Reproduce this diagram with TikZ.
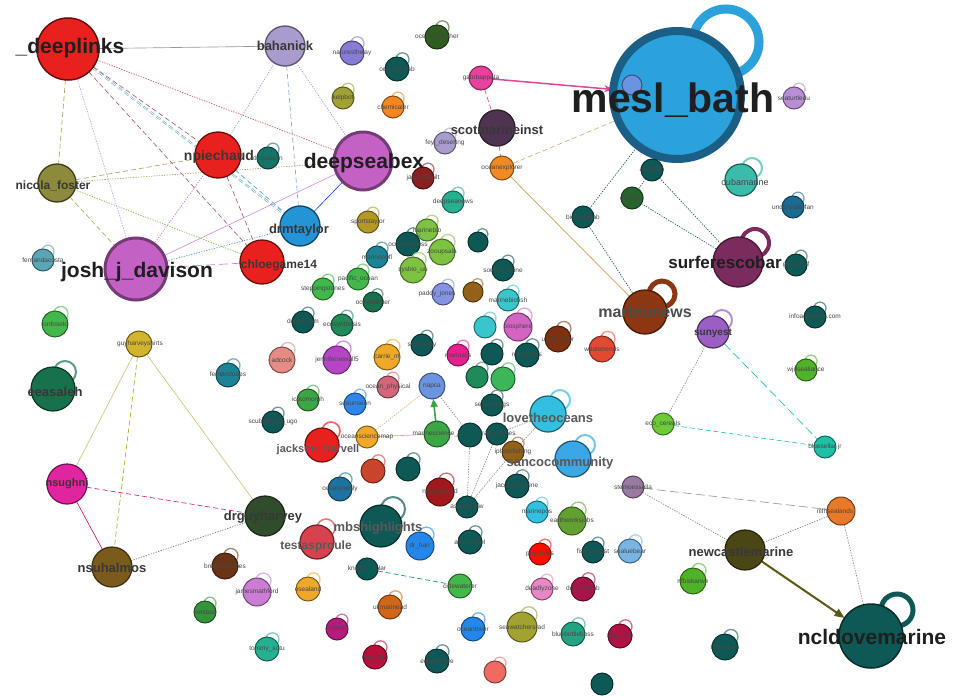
\documentclass[tikz,border=0pt]{standalone}
\usepackage{fontspec}
\setmainfont{Liberation Sans}
\usetikzlibrary{arrows.meta}
\pgfdeclarelayer{bg}\pgfdeclarelayer{fg}\pgfsetlayers{bg,main,fg}
\definecolor{cred}{HTML}{E8211F}
\definecolor{clav}{HTML}{A99BCB}
\definecolor{corch}{HTML}{C362C4}
\definecolor{colive}{HTML}{8C8A3C}
\definecolor{cblue}{HTML}{2394D6}
\definecolor{cmesl}{HTML}{2BA2DB}
\definecolor{cmeslb}{HTML}{1B5F87}
\definecolor{cplum}{HTML}{4F3452}
\definecolor{cpink}{HTML}{E6429E}
\definecolor{corange}{HTML}{F08A24}
\definecolor{cmaroon}{HTML}{7B2B5E}
\definecolor{cbrown}{HTML}{8C3612}
\definecolor{cturq}{HTML}{3BBBAA}
\definecolor{cviolet}{HTML}{9B5EC2}
\definecolor{cnlf}{HTML}{E8782A}
\definecolor{cdkolive}{HTML}{4B4616}
\definecolor{cdkteal}{HTML}{0E5955}
\definecolor{cdkgreen}{HTML}{2F4C2B}
\definecolor{cochre}{HTML}{7A5B1C}
\definecolor{cmagenta}{HTML}{E1249F}
\definecolor{cyellow}{HTML}{D4B42C}
\definecolor{cjade}{HTML}{17714A}
\definecolor{cgreen}{HTML}{42B84A}
\definecolor{clime}{HTML}{7EC242}
\definecolor{ccyan}{HTML}{33C0E0}
\definecolor{cskyblue}{HTML}{3AA8E6}
\definecolor{csalmon}{HTML}{E58C84}
\definecolor{crose}{HTML}{D2667A}
\definecolor{ctealgray}{HTML}{5AA6B4}
\definecolor{cpetrol}{HTML}{1E8296}
\definecolor{cmint}{HTML}{25B090}
\definecolor{cdkred}{HTML}{8A1F20}
\definecolor{ccrimson}{HTML}{A8134A}
\definecolor{cperiw}{HTML}{8494E2}
\definecolor{cpurple}{HTML}{B545C4}
\definecolor{cpinkl}{HTML}{E887C4}
\definecolor{cforest}{HTML}{2E5D1F}
\definecolor{cnavy}{HTML}{1B6A92}
\definecolor{cbrick}{HTML}{E04A32}
\definecolor{cnapca}{HTML}{6A94E0}
\definecolor{csea}{HTML}{1F8A5A}
\definecolor{ctest}{HTML}{D8424E}
\definecolor{cbrown2}{HTML}{6A3416}
\definecolor{cgold}{HTML}{F0A828}
\definecolor{cgrape}{HTML}{9A7AA2}
\definecolor{cltblue}{HTML}{78B4E4}
\definecolor{colive2}{HTML}{A2A232}
\definecolor{csalm2}{HTML}{F06A64}
\definecolor{cdkorange}{HTML}{D0661A}
\definecolor{cbrownochre}{HTML}{94601A}
\definecolor{ccyan2}{HTML}{38C6CC}
\definecolor{cpinkpurple}{HTML}{D464C4}
\definecolor{cleaf}{HTML}{62A032}
\definecolor{eolive}{HTML}{A8A660}
\definecolor{emaroon}{HTML}{B05A72}
\definecolor{ered}{HTML}{D0505A}
\definecolor{eviolet}{HTML}{CC94E6}
\definecolor{eteal}{HTML}{4CA0C0}
\definecolor{eblue}{HTML}{8CA8D0}
\definecolor{etan}{HTML}{D8AE72}
\definecolor{epink}{HTML}{E0449A}
\definecolor{eyellow}{HTML}{CCC47C}
\definecolor{egray}{HTML}{7A8A90}
\tikzset{
 nd/.style={circle,inner sep=0pt,outer sep=0pt,line width=1pt},
 lp/.style={line width=1.3pt},
 ed/.style={line width=0.65pt},
 dsh/.style={dash pattern=on 5pt off 3pt},
 ldsh/.style={dash pattern=on 9pt off 4pt},
 dtt/.style={dash pattern=on 1.3pt off 1.3pt},
 labbig/.style={font=\fontsize{21}{21}\selectfont\bfseries,text=black!88,inner sep=0pt},
 labmid/.style={font=\fontsize{13}{13}\selectfont\bfseries,text=black!78,inner sep=0pt},
 labsm/.style={font=\fontsize{6.5}{6.5}\selectfont,text=black!72,inner sep=0pt},
}
% small node with self loop: [label opts]{name}{x}{y}{r}{colour}{label}
\newcommand{\nl}[7][]{%
  \draw[lp,draw=#6!60!white] ({#3+0.45*#5},{#4-0.8*#5}) circle [radius={0.55*#5pt}];
  \node[nd,minimum size={2*#5pt},fill=#6,draw=#6!55!black] (#2) at (#3,#4) {};
  \begin{pgfonlayer}{fg}\node[labsm,#1] (#2-l) at (#2.center) {#7};\end{pgfonlayer}}
% node without loop
\newcommand{\nd}[7][]{%
  \node[nd,minimum size={2*#5pt},fill=#6,draw=#6!55!black] (#2) at (#3,#4) {};
  \begin{pgfonlayer}{fg}\node[labsm,#1] (#2-l) at (#2.center) {#7};\end{pgfonlayer}}
\begin{document}
\begin{tikzpicture}[x=1pt,y=-1pt]
\useasboundingbox (0,0) rectangle (958,696);
\begin{pgfonlayer}{bg}
\fill[white] (0,0) rectangle (958,696);
\end{pgfonlayer}

% ---------- big / labelled nodes ----------
\node[nd,minimum size=62pt,fill=cred,draw=cred!45!black,line width=1.5pt] (dl) at (68,49) {};
\node[nd,minimum size=40pt,fill=clav,draw=clav!55!black,line width=1.3pt] (bah) at (285,46) {};
\node[nd,minimum size=46pt,fill=cred,draw=cred!45!black,line width=1.3pt] (npi) at (218,155) {};
\node[nd,minimum size=38pt,fill=colive,draw=colive!45!black,line width=1.3pt] (nic) at (57,183) {};
\node[nd,minimum size=58pt,fill=corch,draw=corch!60!black,line width=3pt] (dsb) at (363,161) {};
\node[nd,minimum size=62pt,fill=corch,draw=corch!60!black,line width=3pt] (josh) at (136,269) {};
\node[nd,minimum size=44pt,fill=cred,draw=cred!45!black,line width=1.3pt] (chl) at (262,262) {};
\node[nd,minimum size=40pt,fill=cblue,draw=cblue!45!black,line width=1.3pt] (drm) at (300,226) {};

\draw[line width=9pt,cmesl] (726,42) circle [radius=33pt];
\node[nd,minimum size=128pt,fill=cmesl,draw=cmeslb,line width=8pt] (mesl) at (677,95) {};
\node[nd,minimum size=20pt,fill=cnapca,draw=cnapca!55!black] (mlab) at (632,85) {};

\node[nd,minimum size=36pt,fill=cplum,draw=cplum!55!black,line width=1.3pt] (scot) at (497,128) {};
\nd{gab}{481}{78}{12}{cpink}{gabrbappata}
\nd{org}{502}{168}{12}{corange}{oceanexplorer}

\draw[line width=4pt,cmaroon] (755,243) circle [radius=14pt];
\node[nd,minimum size=50pt,fill=cmaroon,draw=cmaroon!55!black,line width=1.3pt] (surf) at (738,262) {};
\draw[line width=5pt,cbrown] (662,294) circle [radius=13pt];
\node[nd,minimum size=44pt,fill=cbrown,draw=cbrown!50!black,line width=1.3pt] (marb) at (645,312) {};
\draw[line width=2pt,cturq!70!white] (752,168) circle [radius=10pt];
\node[nd,minimum size=32pt,fill=cturq,draw=cturq!50!black,line width=1.2pt] (cuba) at (741,180) {};
\draw[line width=2pt,cviolet!70!white] (722,320) circle [radius=10pt];
\node[nd,minimum size=32pt,fill=cviolet,draw=cviolet!50!black,line width=1.2pt] (suny) at (713,332) {};

\node[nd,minimum size=28pt,fill=cnlf,draw=cnlf!50!black] (nlf) at (841,511) {};
\node[nd,minimum size=40pt,fill=cdkolive,draw=cdkolive!50!black,line width=1.2pt] (newc) at (745,550) {};
\draw[line width=5pt,cdkteal] (897,610) circle [radius=16pt];
\node[nd,minimum size=64pt,fill=cdkteal,draw=cdkteal!50!black,line width=1.5pt] (ncl) at (871,636) {};

\node[nd,minimum size=40pt,fill=cdkgreen,draw=cdkgreen!50!black,line width=1.2pt] (drg) at (265,516) {};
\node[nd,minimum size=40pt,fill=cochre,draw=cochre!50!black,line width=1.2pt] (nsuh) at (112,567) {};
\node[nd,minimum size=40pt,fill=cmagenta,draw=cmagenta!50!black,line width=1.2pt] (nsug) at (67,484) {};
\node[nd,minimum size=26pt,fill=cyellow,draw=cyellow!50!black] (ghs) at (139,344) {};
\draw[line width=2pt,cjade!70!white] (65,372) circle [radius=11pt];
\node[nd,minimum size=44pt,fill=cjade,draw=cjade!50!black,line width=1.2pt] (eea) at (53,389) {};
\nl{lon}{55}{324}{13}{cgreen}{lonfoselo}

\draw[line width=2pt,ccyan!70!white] (560,400) circle [radius=10pt];
\node[nd,minimum size=36pt,fill=ccyan,draw=ccyan!50!black,line width=1.2pt] (lov) at (548,414) {};
\draw[line width=2pt,cskyblue!70!white] (585,445) circle [radius=10pt];
\node[nd,minimum size=36pt,fill=cskyblue,draw=cskyblue!50!black,line width=1.2pt] (sanc) at (573,459) {};
\draw[line width=2pt,cdkteal!70!white] (393,509) circle [radius=12pt];
\node[nd,minimum size=42pt,fill=cdkteal,draw=cdkteal!50!black,line width=1.2pt] (mbs) at (381,526) {};
\draw[line width=1.6pt,ctest!70!white] (326,528) circle [radius=9pt];
\node[nd,minimum size=34pt,fill=ctest,draw=ctest!50!black,line width=1.2pt] (test) at (317,542) {};
\draw[line width=1.6pt,cred!70!white] (331,431) circle [radius=9pt];
\node[nd,minimum size=34pt,fill=cred,draw=cred!50!black,line width=1.2pt] (jack) at (322,445) {};
\nd{napca}{432}{386}{13}{cnapca}{napca}

% ---------- small nodes ----------
\nl{a1}{437}{37}{12}{cforest}{oceanographer}
\nl{a2}{352}{53}{12}{clav!80!blue}{naturesthway}
\nl{a3}{397}{69}{12}{cdkteal}{oceanandsb}
\nl{a4}{343}{98}{11}{colive2}{kelpbot}
\nl{a5}{393}{107}{11}{cgold!80!red}{chemicaler}
\nl{a6}{445}{143}{11}{clav}{feyl\_desertng}
\nl{a7}{423}{178}{11}{cdkred}{jasonhamilt}
\nl{a8}{453}{202}{11}{cmint}{deepseanews}
\nl{a9}{368}{222}{11}{cyellow!85!black}{sportstaylor}
\nl{a10}{427}{230}{11}{clime}{marinebio}
\nl{a11}{268}{158}{11}{cdkteal!70!cmint}{drouxlawn}
\nl{a12}{794}{98}{11}{cviolet!70!white}{seaturtledu}
\nl{a13}{793}{207}{11}{cnavy}{underwaterfan}
\nd{t1}{652}{170}{11}{cdkteal}{alanjohn}
\nd{t2}{632}{198}{11}{cforest!70!cjade}{oliverkirl}
\nd{t3}{583}{217}{11}{cdkteal}{biomarinlab}
\nl{a14}{796}{265}{11}{cdkteal}{glassreef}
\nl{a15}{815}{317}{11}{cdkteal}{infoaquarium.com}
\nl{a16}{806}{370}{11}{cleaf!80!green}{wjdsealiance}
\nd{tg1}{825}{447}{11}{cmint!80!cyan}{bluesellar jr}
\nd{gr1}{663}{424}{11}{clime!85!green}{eco\_cereals}
\nl{a17}{43}{260}{11}{ctealgray}{fernandacosta}
\nl{a18}{228}{375}{12}{cpetrol}{fernandoaps}

\nl{b1}{377}{257}{11}{cpetrol}{marineoofl}
\nl{b2}{408}{244}{12}{cdkteal}{oceanwitness}
\nl{b3}{442}{252}{13}{clime}{zooupsala}
\nl{b4}{413}{270}{13}{clime}{sysbio\_uu}
\nl{b5}{358}{279}{11}{cgreen}{pacific\_ocean}
\nl{b6}{323}{289}{11}{cgreen}{steppingstones}
\nl{b7}{373}{302}{10}{cjade}{oceandrifter}
\nl{b8}{303}{322}{11}{cdkteal}{deeplocum}
\nl{b9}{342}{325}{11}{csea}{ecosynthesis}
\nl[xshift=-6pt]{b10}{443}{294}{11}{cperiw}{paddy\_jones}
\nl{b11}{473}{292}{10}{cbrownochre}{}
\nl{b12}{422}{345}{11}{cdkteal}{seatrophy}
\nl{b13}{387}{357}{13}{cgold}{carrie\_m}
\nl{b14}{337}{360}{14}{cpurple}{jennifernewall5}
\nl{b15}{282}{360}{13}{csalmon}{adcock}
\nl{b16}{458}{355}{11}{cmagenta!90!red}{marinalis}
\nl{b17}{388}{387}{11}{crose}{ocean\_physical}
\nl{b18}{355}{404}{11}{cskyblue!80!blue}{seaunseen}
\nl{b19}{308}{400}{11}{cgreen!90!black}{icatomorph}
\nl{b20}{273}{422}{11}{cdkteal}{scubadiving\_ugo}
\nd{or2}{367}{437}{11}{cgold}{oceansciencemap}
\nd{gr3}{437}{434}{13}{cgreen!90!black}{marinescience\_s}
\nd{dt3}{470}{435}{12}{cdkteal}{}
\nl{b21}{477}{377}{11}{csea}{}
\nl{b22}{478}{242}{10}{cdkteal}{}
\nl{b23}{503}{270}{11}{cdkteal}{sourcemarine}
\nl{b24}{508}{300}{11}{ccyan2}{marinebiofish}
\nl{b25}{485}{327}{11}{ccyan2}{}
\nl{b26}{518}{327}{14}{cpinkpurple}{biosphere}
\nl{b27}{492}{354}{11}{cdkteal}{}
\nl{b28}{527}{355}{12}{cdkteal}{rosgostats}
\nl{b29}{558}{339}{13}{cbrown!90!black}{underwater}
\nl{b30}{602}{349}{13}{cbrick}{wastetrends}
\nl{b31}{503}{379}{12}{cgreen!80!cmint}{}
\nl{b32}{492}{405}{11}{cdkteal}{seabirdlings}
\nd{b33}{497}{434}{11}{cdkteal}{dragonfishes}
\nl{och}{513}{452}{11}{cbrownochre}{iphotofishing}

\nl{c1}{340}{489}{12}{cnavy!80!cblue}{oceanmadly}
\nl{c2}{373}{471}{12}{cbrick!90!black}{}
\nl{c3}{408}{469}{12}{cdkteal}{}
\nl{c4}{440}{492}{14}{cdkred!80!red}{neurosciped}
\nd{c5}{467}{507}{11}{cdkteal}{asteroid\_fw}
\nl{c6}{420}{546}{14}{ccyan!70!blue}{dr\_harr}
\nl{c7}{470}{542}{12}{cdkteal}{atlantisfeel}
\nd{kn}{367}{569}{11}{cdkteal}{knights\_solar}
\nd{gr4}{460}{586}{12}{cgreen}{cidewaterer}
\nl{c8}{257}{592}{14}{cpurple!70!white}{jamesmathford}
\nl{c9}{308}{589}{12}{cgold}{osealand}
\nl{c10}{390}{607}{12}{cdkorange}{ukmarinead}
\nl{c11}{337}{629}{11}{cmagenta!80!black}{jonbolin}
\nl{c12}{473}{629}{12}{ccyan!70!blue}{oceanlover}
\nl{c13}{267}{649}{12}{cmint}{tommy\_sutu}
\nl{c14}{375}{657}{12}{ccrimson!80!red}{neonbills}
\nl{c15}{437}{661}{12}{cdkteal}{earthnature}
\nl{c16}{225}{566}{13}{cbrown2}{brennanbones}
\nl{c17}{205}{612}{11}{cgreen!80!black}{xeniasa}
\nl{d1}{517}{486}{12}{cdkteal}{jacobesmarine}
\nd{sp}{633}{487}{11}{cgrape}{stemoessella}
\nl{d2}{537}{512}{11}{ccyan}{marinepos}
\nl{d3}{572}{521}{14}{cleaf}{earthworksjobs}
\nl{d4}{540}{554}{11}{red!90!orange}{phycodes}
\nl{d5}{593}{552}{11}{cdkteal}{fishcologist}
\nl{d6}{630}{551}{12}{cltblue}{sealuebear}
\nl{d7}{542}{589}{11}{cpinkl}{deadlyzone}
\nl{d8}{583}{589}{12}{ccrimson}{deepsealab}
\nl{d9}{522}{627}{15}{colive2}{seawatchersrad}
\nl{d10}{573}{634}{12}{cmint!80!cjade}{bluebottleboss}
\nl{d11}{620}{636}{12}{ccrimson!90!red}{sea\_toke}
\nl{d12}{495}{672}{11}{csalm2}{}
\nd{d13}{602}{684}{11}{cdkteal}{}
\nl{d14}{693}{581}{13}{cleaf!80!green}{nfbiskarwe}
\nl{d15}{725}{647}{13}{cdkteal}{blastoises}

% ---------- labels of big nodes ----------
\begin{pgfonlayer}{fg}
\node[labbig] (dl-l) at (70,48) {\_deeplinks};
\node[labmid] (bah-l) at (285,46) {bahanick};
\node[labmid,font=\fontsize{14}{14}\selectfont\bfseries] (npi-l) at (219,157) {npiechaud};
\node[labmid,font=\fontsize{12}{12}\selectfont\bfseries] (nic-l) at (53,186) {nicola\_foster};
\node[labbig] (dsb-l) at (364,163) {deepseabex};
\node[labbig] (josh-l) at (137,272) {josh\_j\_davison};
\node[labmid,font=\fontsize{12}{12}\selectfont\bfseries] (chl-l) at (279,265) {chloegame14};
\node[labmid] (drm-l) at (299,230) {drmtaylor};
\node[labbig,font=\fontsize{41}{41}\selectfont\bfseries] (mesl-l) at (673,100) {mesl\_bath};
\node[labmid] (scot-l) at (497,130) {scotmarineinst};
\node[labbig,font=\fontsize{17}{17}\selectfont\bfseries] (surf-l) at (725,262) {surferescobar};
\node[labmid,font=\fontsize{16}{16}\selectfont\bfseries,text=black!70] (marb-l) at (645,312) {marbionews};
\node[labsm,font=\fontsize{9}{9}\selectfont] (cuba-l) at (745,182) {cubamarine};
\node[labmid,font=\fontsize{10}{10}\selectfont\bfseries] (suny-l) at (713,333) {sunyest};
\node[labmid] (newc-l) at (741,552) {newcastlemarine};
\node[labbig] (ncl-l) at (872,637) {ncldovemarine};
\node[labmid] (drg-l) at (263,517) {drguyharvey};
\node[labmid] (nsuh-l) at (112,568) {nsuhalmos};
\node[labmid,font=\fontsize{11}{11}\selectfont\bfseries] (nsug-l) at (67,484) {nsughni};
\node[labmid] (eea-l) at (55,392) {eeasaleh};
\node[labmid,text=black!65] (lov-l) at (548,418) {lovetheoceans};
\node[labmid,text=black!65] (sanc-l) at (560,463) {sancocommunity};
\node[labmid,text=black!65] (mbs-l) at (378,528) {mbshighlights};
\node[labmid,font=\fontsize{12}{12}\selectfont\bfseries,text=black!65] (test-l) at (316,546) {testasproule};
\node[labmid,font=\fontsize{11}{11}\selectfont\bfseries,text=black!65] (jack-l) at (318,450) {jackson\_harvell};
\node[labsm] (ghs-l) at (140,344) {guyharveyshirts};
\node[labsm] (nlf-l) at (835,511) {nlfhsealands};
\end{pgfonlayer}

% ---------- connectors ----------
\begin{pgfonlayer}{bg}
\draw[ed,black!40] (dl) -- (bah);
\draw[ed,dsh,eolive] (dl) -- (nic);
\draw[ed,dsh,emaroon] (dl) -- (npi);
\draw[ed,dtt,ered] (dl) -- (dsb);
\draw[ed,dtt,eviolet] (dl) -- (josh);
\draw[ed,dsh,eteal,double=white,double distance=0.8pt,line width=0.5pt] (dl) -- (drm);
\draw[ed,dsh,emaroon] (dl) -- (chl);
\draw[ed,dtt,eblue] (bah) -- (npi);
\draw[ed,dsh,eblue] (bah) -- (drm);
\draw[ed,dtt,eblue] (bah) -- (dsb);
\draw[ed,dtt,eviolet!80!purple] (npi) -- (josh);
\draw[ed,dsh,emaroon] (npi) -- (chl);
\draw[ed,dsh,eteal] (npi) -- (drm);
\draw[ed,dsh,eolive] (nic) -- (npi);
\draw[ed,dtt,eolive] (nic) -- (dsb);
\draw[ed,dsh,eolive] (nic) -- (josh);
\draw[ed,dtt,eolive!70!green] (nic) -- (chl);
\draw[ed,eviolet] (dsb) -- (josh);
\draw[ed,blue!50!cblue] (dsb) -- (drm);
\draw[ed,ldsh,corch!80!white] (josh) -- (chl);
\draw[ed,dtt,eteal] (josh) -- (drm);

\draw[line width=1.5pt,epink,-{Stealth[length=9pt,width=7pt]}] (gab) -- (mesl);
\draw[ed,dsh,epink] (gab) -- (scot);
\draw[ed,dsh,egray] (scot) -- (org);
\draw[ed,dsh,etan] (org) -- (mesl);
\draw[line width=0.9pt,etan] (org) -- (marb);
\draw[ed,dtt,cdkteal] (mesl) -- (t1);
\draw[ed,dtt,cdkteal] (mesl) -- (t3);
\draw[ed,dtt,cdkteal] (t1) -- (surf);
\draw[ed,dtt,cdkteal] (t2) -- (surf);
\draw[ed,dtt,cdkteal] (t1) -- (t2);
\draw[ed,dtt,cdkteal] (t3) -- (marb);

\draw[ed,dtt,eblue!80!purple] (suny) -- (gr1);
\draw[ed,ldsh,cmint!70!cyan] (suny) -- (tg1);
\draw[ed,dsh,cmint!70!cyan] (gr1) -- (tg1);

\draw[ed,eyellow] (ghs) -- (nsug);
\draw[ed,dsh,cyellow!90!black] (ghs) -- (nsuh);
\draw[ed,eyellow] (ghs) -- (drg);
\draw[ed,dsh,cmagenta!80!purple] (nsug) -- (drg);
\draw[ed,cmagenta!60!purple] (nsug) -- (nsuh);
\draw[ed,dtt,egray] (nsuh) -- (drg);

\draw[ed,ldsh,black!40] (sp) -- (nlf);
\draw[ed,dtt,egray] (sp) -- (newc);
\draw[ed,dtt,egray] (newc) -- (nlf);
\draw[line width=2pt,cdkolive!90!yellow,-{Triangle[length=10pt,width=8pt]}] (newc) -- (ncl);
\draw[ed,dtt,egray] (nlf) -- (ncl);

\draw[ed,dsh,cdkteal!70!cyan] (kn) -- (gr4);
\draw[ed,dtt,etan] (or2) -- (napca);
\draw[line width=1.6pt,cgreen!90!black,-{Triangle[length=8pt,width=7pt]}] (gr3) -- (napca);
\draw[ed,dtt,egray] (dt3) -- (napca);
\draw[ed,etan] (or2) -- (gr3);
\draw[ed,dtt,egray] (och) -- (lov);
\draw[ed,dtt,egray] (b33) -- (lov);
\draw[ed,dtt,egray] (c5) -- (och);
\draw[ed,dtt,egray] (c5) -- (dt3);
\draw[ed,dtt,egray] (b33) -- (c5);
\end{pgfonlayer}
\end{tikzpicture}
\end{document}
